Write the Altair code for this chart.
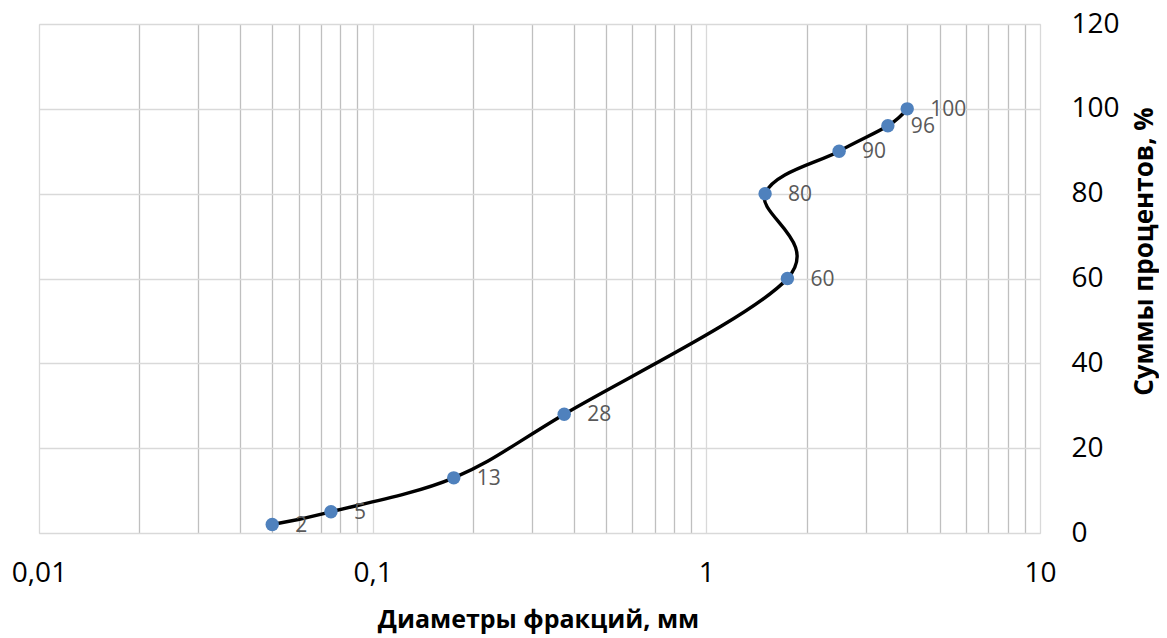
import altair as alt
import pandas as pd

# Data
diameters = [0.05, 0.075, 0.175, 0.375, 1.75, 1.5, 2.5, 3.5, 4.0]
cum_percent = [2, 5, 13, 28, 60, 80, 90, 96, 100]

x_major = [0.01, 0.1, 1, 10]
x_major_labels = ["0,01", "0,1", "1", "10"]
x_minor = [0.02, 0.03, 0.04, 0.05, 0.06, 0.07, 0.08, 0.09,
           0.2, 0.3, 0.4, 0.5, 0.6, 0.7, 0.8, 0.9,
           2, 3, 4, 5, 6, 7, 8, 9]
y_ticks = [0, 20, 40, 60, 80, 100, 120]

df = pd.DataFrame({"d": diameters, "p": cum_percent, "lbl": [str(v) for v in cum_percent]})

FONT = "Open Sans"

label_expr = " : ".join(
    f"datum.value == {v} ? '{t}'" for v, t in zip(x_major, x_major_labels)
) + " : ''"
major_test = " || ".join(f"datum.value == {v}" for v in x_major)

x_enc = alt.X(
    "d:Q",
    scale=alt.Scale(type="log", domain=[0.01, 10], nice=False),
    axis=alt.Axis(
        values=sorted(x_major + x_minor),
        labelExpr=label_expr,
        labelOverlap=False,
        labelFlush=False,
        labelBound=False,
        labelFont=FONT,
        labelFontSize=28,
        labelColor="#000000",
        labelPadding=26,
        ticks=False,
        domain=False,
        grid=True,
        gridColor={"condition": {"test": major_test, "value": "#d9d9d9"}, "value": "#bfbfbf"},
        gridWidth=1.3,
        title="Диаметры фракций, мм",
        titleFont=FONT,
        titleFontSize=25,
        titleFontWeight="bold",
        titleColor="#000000",
        titleX=499,
        titleY=94,
        titleBaseline="alphabetic",
        titleAlign="center",
    ),
)

y_enc = alt.Y(
    "p:Q",
    scale=alt.Scale(domain=[0, 120], nice=False),
    axis=alt.Axis(
        orient="right",
        values=y_ticks,
        labelFont=FONT,
        labelFontSize=28,
        labelColor="#000000",
        labelPadding=31,
        labelAlign="left",
        labelFlush=False,
        labelBound=False,
        ticks=False,
        domain=False,
        grid=True,
        gridColor="#d9d9d9",
        gridWidth=1.3,
        title="Суммы процентов, %",
        titleFont=FONT,
        titleFontSize=26,
        titleFontWeight="bold",
        titleColor="#000000",
        titleAngle=270,
        titleX=104,
        titleY=227,
        titleAlign="center",
        titleBaseline="middle",
    ),
)

base = alt.Chart(df)

line = base.mark_line(
    color="#000000", strokeWidth=3.4, interpolate="cardinal"
).encode(x=x_enc, y=y_enc, order=alt.Order("p:Q"))

points = base.mark_circle(size=180, color="#4f81bd", opacity=1).encode(x="d:Q", y="p:Q")

labels = base.mark_text(
    align="left", baseline="middle", dx=23, dy=1, font=FONT, fontSize=21, color="#595959"
).encode(x="d:Q", y="p:Q", text="lbl:N")

chart = (
    alt.layer(line, points, labels)
    .properties(
        width=1001,
        height=509,
        autosize=alt.AutoSizeParams(type="none"),
        padding={"left": 31, "top": 16, "right": 119, "bottom": 105},
    )
    .configure_view(stroke=None)
    .configure(background="#ffffff")
)

chart.save("out.html", embed_options={"renderer": "svg", "actions": False})
